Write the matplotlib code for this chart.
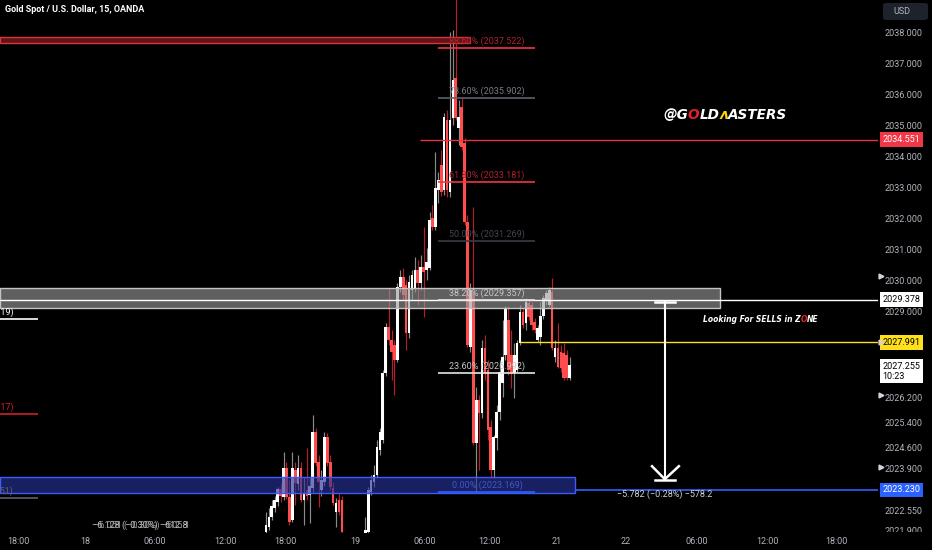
import matplotlib
matplotlib.use('Agg')
import matplotlib.pyplot as plt
import matplotlib.transforms as mtransforms
from matplotlib.patches import Rectangle, FancyBboxPatch
import numpy as np

plt.rcParams['font.family'] = ['Roboto', 'DejaVu Sans']

# ---------------- data (15-minute candles, XAUUSD) ----------------
opens = [2021.87, 2022.03, 2022.35, 2022.64, 2022.84, 2023.26, 2023.00, 2023.94, 2023.00, 2022.26,
         2023.87, 2023.42, 2023.94, 2022.90, 2023.23, 2023.06, 2023.29, 2025.10, 2024.13, 2023.23,
         2023.49, 2024.94, 2024.13, 2023.29, 2022.51, 2022.90, 2022.90, 2021.74, 2021.35, 2021.22,
         2021.12, 2021.29, 2021.35, 2021.45, 2021.61, 2021.87, 2023.16, 2023.49, 2023.71, 2024.52,
         2024.84, 2027.01, 2028.50, 2028.08, 2027.91, 2027.43, 2029.79, 2030.11, 2029.85, 2028.30,
         2029.69, 2029.76, 2030.34, 2029.92, 2030.43, 2030.34, 2030.40, 2032.02, 2031.73, 2032.92,
         2033.73, 2032.92, 2035.19, 2032.86, 2035.25, 2036.55, 2034.93, 2035.61, 2034.44, 2031.89,
         2027.85, 2029.60, 2024.74, 2026.14, 2025.71, 2027.82, 2027.11, 2025.26, 2023.87, 2024.90,
         2025.74, 2026.69, 2027.59, 2028.72, 2027.59, 2027.01, 2027.11, 2027.98, 2028.98, 2028.62,
         2029.27, 2029.21, 2028.66, 2028.08, 2028.17, 2028.85, 2029.37, 2029.21, 2029.63, 2027.53,
         2027.82, 2027.69, 2027.66, 2027.59, 2026.84]
highs = [2022.51, 2022.64, 2022.90, 2023.03, 2023.32, 2023.42, 2024.45, 2024.13, 2023.55, 2024.45,
         2024.13, 2024.36, 2024.13, 2023.65, 2024.58, 2023.65, 2025.65, 2025.23, 2024.36, 2023.87,
         2025.10, 2025.07, 2024.36, 2023.49, 2022.97, 2023.10, 2023.03, 2021.74, 2021.61, 2021.45,
         2021.35, 2021.45, 2021.61, 2021.71, 2022.35, 2023.32, 2023.71, 2024.03, 2024.84, 2025.23,
         2027.11, 2028.62, 2029.76, 2028.40, 2028.08, 2029.92, 2030.34, 2030.40, 2030.01, 2030.18,
         2030.34, 2030.76, 2030.66, 2030.82, 2031.73, 2031.05, 2032.21, 2032.44, 2034.15, 2033.51,
         2034.22, 2035.41, 2035.51, 2038.03, 2038.10, 2039.37, 2035.83, 2035.90, 2034.60, 2032.11,
         2029.92, 2032.38, 2026.55, 2026.30, 2028.08, 2028.24, 2027.43, 2025.49, 2025.00, 2025.97,
         2027.43, 2028.72, 2029.17, 2029.17, 2028.40, 2027.98, 2028.08, 2029.21, 2029.11, 2029.43,
         2029.37, 2029.30, 2028.79, 2028.56, 2029.30, 2029.53, 2029.69, 2029.79, 2030.08, 2028.08,
         2028.62, 2027.91, 2027.98, 2027.75, 2027.53]
lows = [2021.74, 2021.93, 2022.26, 2022.51, 2022.71, 2022.84, 2022.90, 2022.94, 2022.09, 2022.19,
        2022.74, 2023.23, 2022.84, 2022.09, 2022.90, 2022.16, 2023.16, 2024.00, 2022.68, 2023.03,
        2023.36, 2024.00, 2023.23, 2022.74, 2022.03, 2022.42, 2021.80, 2021.29, 2020.96, 2020.90,
        2020.80, 2020.96, 2021.09, 2021.22, 2021.45, 2021.77, 2023.06, 2023.32, 2023.61, 2024.36,
        2024.74, 2026.91, 2027.91, 2026.78, 2026.30, 2027.37, 2029.63, 2029.37, 2027.75, 2028.14,
        2029.37, 2029.63, 2029.21, 2029.69, 2028.82, 2030.01, 2030.34, 2031.63, 2031.63, 2032.50,
        2032.73, 2032.76, 2032.70, 2032.70, 2035.03, 2035.19, 2034.38, 2034.22, 2031.79, 2027.85,
        2027.69, 2024.68, 2023.17, 2023.87, 2025.55, 2026.78, 2024.84, 2023.65, 2023.61, 2024.52,
        2025.49, 2026.23, 2027.43, 2026.94, 2026.52, 2026.20, 2027.04, 2027.91, 2028.46, 2028.40,
        2028.72, 2028.40, 2028.30, 2028.01, 2027.91, 2028.75, 2029.21, 2029.14, 2027.75, 2027.37,
        2027.17, 2027.04, 2026.78, 2026.78, 2026.78]
closes = [2022.09, 2022.35, 2022.71, 2022.90, 2023.26, 2023.03, 2023.94, 2023.00, 2022.19, 2023.94,
          2023.45, 2023.94, 2022.90, 2023.13, 2023.03, 2023.36, 2025.10, 2024.10, 2023.49, 2023.55,
          2024.94, 2024.10, 2023.32, 2022.81, 2022.81, 2022.51, 2021.87, 2021.35, 2021.22, 2021.12,
          2021.29, 2021.35, 2021.45, 2021.61, 2021.93, 2023.23, 2023.55, 2023.71, 2024.61, 2025.10,
          2027.01, 2028.50, 2028.08, 2027.69, 2027.43, 2029.79, 2030.11, 2029.53, 2028.30, 2029.95,
          2030.18, 2030.34, 2029.92, 2030.43, 2030.27, 2030.60, 2031.95, 2031.73, 2032.99, 2033.25,
          2032.86, 2035.28, 2032.92, 2035.19, 2036.48, 2035.25, 2035.28, 2034.31, 2031.89, 2027.91,
          2029.69, 2024.74, 2026.14, 2025.71, 2027.82, 2027.01, 2025.16, 2023.87, 2024.94, 2025.74,
          2027.04, 2027.53, 2029.11, 2027.11, 2027.01, 2027.59, 2027.98, 2028.98, 2028.56, 2029.30,
          2028.82, 2028.56, 2028.40, 2028.46, 2028.85, 2029.43, 2029.60, 2029.69, 2027.82, 2027.82,
          2027.20, 2027.17, 2026.84, 2026.84, 2027.26]

time_tick_pos = [-84.9, -62.0, -38.0, -14.0, 6.5, 30.5, 54.5, 76.7, 99.7, 123.3, 147.6, 171.6, 195.5]
time_tick_labels = ['18:00', '18', '06:00', '12:00', '18:00', '19', '06:00', '12:00',
                    '21', '22', '06:00', '12:00', '18:00']
price_ticks = [2038, 2037, 2036, 2035, 2034, 2033, 2032, 2031, 2030, 2029,
               2026.2, 2025.4, 2024.6, 2023.9, 2022.55, 2021.9]

fib_ratios = ['88.60%', '78.60%', '61.80%', '50.00%', '38.20%', '23.60%', '0.00%']
fib_levels = [2037.522, 2035.902, 2033.181, 2031.269, 2029.357, 2026.992, 2023.169]
fib_line_colors = ['#f23645', '#5d606b', '#f23645', '#3a3d46', '#e6e6e6', '#e6e6e6', '#2962ff']
fib_text_colors = ['#b0222c', '#787b86', '#b0222c', '#434651', '#c8c8c8', '#c8c8c8', '#4157c8']

left_fib_levels = [2028.749, 2025.683, 2022.970]
left_fib_texts = ['38.20% (2028.719)', '61.80% (2025.617)', '0.00% (2022.951)']
left_fib_colors = ['#ffffff', '#d01f2b', '#5d606b']

level_red = 2034.551
level_white = 2029.378
level_yellow = 2027.991
level_blue = 2023.230
last_price = 2027.255
last_time = '10:23'
sell_zone = (2029.11, 2029.76)
buy_zone = (2023.13, 2023.65)
top_zone = (2037.68, 2037.87)
measure_top, measure_bottom = 2029.30, 2023.55
measure_text = '\u22125.782 (\u22120.28%) \u2212578.2'

# ---------------- figure ----------------
FW, FH = 932, 550
AX_R, AX_B = 878, 533
fig = plt.figure(figsize=(FW / 100, FH / 100), dpi=100, facecolor='black')
ax = fig.add_axes([0, (FH - AX_B) / FH, AX_R / FW, AX_B / FH])
ax.set_facecolor('black')
XMIN, XMAX = -91.1, 209.6
ax.set_xlim(XMIN, XMAX)
ax.set_ylim(2021.83, 2039.067)
for s in ax.spines.values():
    s.set_visible(False)

o = np.array(opens); h = np.array(highs); l = np.array(lows); c = np.array(closes)
idx = np.arange(len(o))
up = c >= o
ax.vlines(idx[up], l[up], h[up], color='#8a8a8a', lw=0.85, zorder=2)
ax.vlines(idx[~up], l[~up], h[~up], color='#b3202c', lw=0.85, zorder=2)
bb = np.minimum(o, c)
bh = np.maximum(np.abs(c - o), 0.03)
ax.bar(idx[up], bh[up], bottom=bb[up], width=0.92, color='#ffffff', edgecolor='none', zorder=3)
ax.bar(idx[~up], bh[~up], bottom=bb[~up], width=0.92, color='#ff4d4d', edgecolor='none', zorder=3)

# zones
ax.add_patch(Rectangle((XMIN, top_zone[0]), 69.9 - XMIN, top_zone[1] - top_zone[0],
                       fc='#5e151a', ec='#e0323c', lw=1.0, zorder=4))
ax.add_patch(Rectangle((XMIN, sell_zone[0]), 155.5 - XMIN, sell_zone[1] - sell_zone[0],
                       fc='#9a9a9a', alpha=0.62, ec='none', zorder=4))
ax.add_patch(Rectangle((XMIN, sell_zone[0]), 155.5 - XMIN, sell_zone[1] - sell_zone[0],
                       fill=False, ec='#c4c4c4', lw=1.0, zorder=4))
ax.add_patch(Rectangle((XMIN, buy_zone[0]), 105.8 - XMIN, buy_zone[1] - buy_zone[0],
                       fc='#283296', alpha=0.65, ec='none', zorder=4))
ax.add_patch(Rectangle((XMIN, buy_zone[0]), 105.8 - XMIN, buy_zone[1] - buy_zone[0],
                       fill=False, ec='#3d5afe', lw=1.0, zorder=4))

# horizontal levels
ax.hlines(level_red, 52.7, XMAX, color='#e8323c', lw=1.0, zorder=5)
ax.hlines(level_white, XMIN, XMAX, color='#ffffff', lw=1.0, zorder=5)
ax.hlines(level_yellow, 87.0, XMAX, color='#ffe01a', lw=1.0, zorder=5)
ax.hlines(level_blue, 105.8, XMAX, color='#2962ff', lw=1.2, zorder=5)

# fib retracement
for r, lv, lc, tc in zip(fib_ratios, fib_levels, fib_line_colors, fib_text_colors):
    ax.hlines(lv, 58.9, 92.1, color=lc, lw=1.2, zorder=6)
    ax.annotate(f'{r} ({lv:.3f})', xy=(75.7, lv), xytext=(0, 1.5), textcoords='offset points',
                ha='center', va='bottom', fontsize=6.5, color=tc, zorder=6)

# partial fib on the left
for lv, t, col in zip(left_fib_levels, left_fib_texts, left_fib_colors):
    ax.hlines(lv, XMIN, -78.1, color=col, lw=1.2, zorder=6)
    ax.annotate(t, xy=(-86.6, lv), xytext=(0, 1.5), textcoords='offset points',
                ha='right', va='bottom', fontsize=6.5, color=col, zorder=6,
                annotation_clip=False, clip_on=True)

# bottom-left overlapping measurement labels
ax.text(-43.2, 2022.09, '\u22126.128 (\u22120.30%) \u2212612.8', ha='center', va='center',
        fontsize=6.5, color='#c8c8c8', zorder=6)
ax.text(-42.4, 2022.09, '\u22126.051 (\u22120.30%) \u2212605.1', ha='center', va='center',
        fontsize=6.5, color='#9a9a9a', zorder=6)

# measurement arrow
mx = 136.6
ax.plot([mx, mx], [measure_top, measure_bottom], color='white', lw=1.5, zorder=7)
ax.plot([133.2, 140.1], [measure_top, measure_top], color='white', lw=1.8, zorder=7)
ax.plot([133.2, 140.1], [measure_bottom, measure_bottom], color='white', lw=1.8, zorder=7)
ax.plot([132.2, mx, 141.4], [2023.99, measure_bottom + 0.02, 2023.99], color='white', lw=1.8,
        zorder=7, solid_joinstyle='miter')
ax.text(mx, 2023.10, measure_text, ha='center', va='center', fontsize=6.5, color='#d1d4dc', zorder=7)


def chain(x, y, parts, size):
    t = ax.text(x, y, parts[0][0], color=parts[0][1], fontsize=size, fontweight='bold',
                fontstyle='italic', family='DejaVu Sans', ha='left', va='center', zorder=8)
    prev = t
    for s, col in parts[1:]:
        prev = ax.annotate(s, xy=(1, 0), xycoords=prev, xytext=(0, 0), textcoords='offset points',
                           ha='left', va='bottom', color=col, fontsize=size, fontweight='bold',
                           fontstyle='italic', family='DejaVu Sans', zorder=8)


chain(136.0, 2035.35, [('@G', 'white'), ('O', '#e8202a'), ('LD', 'white'),
                       ('\u028c', '#ffd400'), ('ASTERS', 'white')], 9.8)
chain(149.7, 2028.72, [('Looking For SELLS in Z', 'white'), ('O', '#e8202a'), ('NE', 'white')], 5.5)

# axes ticks
ax.set_xticks(time_tick_pos)
ax.set_xticklabels(time_tick_labels)
ax.yaxis.tick_right()
ax.set_yticks(price_ticks)
ax.set_yticklabels([f'{p:.3f}' for p in price_ticks])
ax.tick_params(axis='both', length=0, labelcolor='#b2b5be', labelsize=6.5)
ax.tick_params(axis='y', pad=5)
ax.tick_params(axis='x', pad=3)

trans_r = mtransforms.blended_transform_factory(ax.transAxes, ax.transData)


def price_box(y, txt, fc, tc):
    ax.text(1 + 4.7 / AX_R, y, txt, transform=trans_r, ha='left', va='center', fontsize=6.5,
            color=tc, bbox=dict(boxstyle='square,pad=0.3', fc=fc, ec='none'),
            clip_on=False, zorder=10, linespacing=1.1)


price_box(level_red, f'{level_red:.3f}', '#f23645', 'white')
price_box(level_white, f'{level_white:.3f}', 'white', 'black')
price_box(level_yellow, f'{level_yellow:.3f}', '#ffe01a', 'black')
price_box(last_price - 0.2, f'{last_price:.3f}\n{last_time}', 'white', 'black')
price_box(level_blue, f'{level_blue:.3f}', '#2962ff', 'white')

for yv in [2030.15, level_yellow, 2026.3, 2023.95]:
    ax.plot([1 + 3 / AX_R], [yv], marker='>', ms=3.5, color='#d1d4dc', transform=trans_r,
            clip_on=False, zorder=11)

# cover strip under price axis
fig.patches.append(Rectangle((AX_R / FW, 0), 1 - AX_R / FW, (FH - 532) / FH,
                             transform=fig.transFigure, fc='black', ec='none', zorder=5))

# title & currency button
fig.text(5 / FW, 1 - 10 / FH, 'Gold Spot / U.S. Dollar, 15, OANDA', color='white', fontsize=6.5,
         fontweight='bold', ha='left', va='center')
fig.patches.append(FancyBboxPatch((883 / FW, 1 - 20 / FH), 45 / FW, 17 / FH,
                                  boxstyle='round,pad=0,rounding_size=0.004',
                                  transform=fig.transFigure, fc='#1e222d', ec='none', zorder=5))
fig.text(893 / FW, 1 - 11.5 / FH, 'USD', color='#b2b5be', fontsize=6.5, ha='left', va='center',
         zorder=6)

fig.savefig('out.png', dpi=100, facecolor='black')
